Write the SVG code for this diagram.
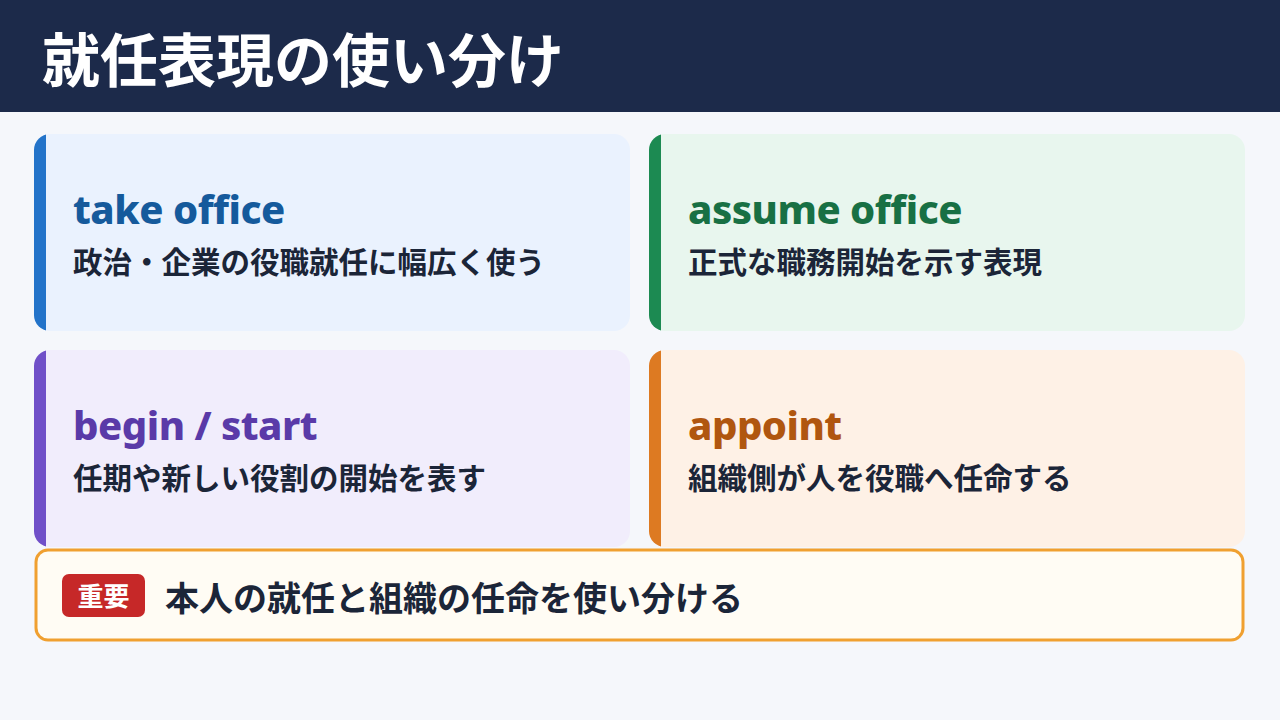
<svg xmlns="http://www.w3.org/2000/svg" width="1280" height="720" viewBox="0 0 1280 720">
<style>
.t{font-family:"Noto Sans","Noto Sans CJK JP",sans-serif;font-weight:700}
.h{font-size:40px;letter-spacing:-0.5px;font-weight:800}
.s{font-size:29.5px;fill:#1b2538;font-weight:600}
</style>
<defs>
<clipPath id="c1"><rect x="34" y="134" width="596" height="197" rx="16"/></clipPath>
<clipPath id="c2"><rect x="649" y="134" width="596" height="197" rx="16"/></clipPath>
<clipPath id="c3"><rect x="34" y="350" width="596" height="197" rx="16"/></clipPath>
<clipPath id="c4"><rect x="649" y="350" width="596" height="197" rx="16"/></clipPath>
</defs>
<rect width="1280" height="720" fill="#f5f7fb"/>
<rect width="1280" height="112" fill="#1c2a4a"/>
<text class="t" x="42" y="82" font-size="58" fill="#fff" font-weight="800">就任表現の使い分け</text>
<g id="card1">
<rect x="34" y="134" width="596" height="197" rx="16" fill="#eaf2fe"/>
<rect x="34" y="134" width="12" height="197" fill="#2373c9" clip-path="url(#c1)"/>
<text class="t h" x="73" y="224" fill="#155a9c">take office</text>
<text class="t s" x="73" y="273">政治・企業の役職就任に幅広く使う</text>
</g>
<g id="card2">
<rect x="649" y="134" width="596" height="197" rx="16" fill="#e8f6ee"/>
<rect x="649" y="134" width="12" height="197" fill="#1c8a52" clip-path="url(#c2)"/>
<text class="t h" x="688" y="224" fill="#187044">assume office</text>
<text class="t s" x="688" y="273">正式な職務開始を示す表現</text>
</g>
<g id="card3">
<rect x="34" y="350" width="596" height="197" rx="16" fill="#f1edfc"/>
<rect x="34" y="350" width="12" height="197" fill="#7050c8" clip-path="url(#c3)"/>
<text class="t h" x="73" y="440" fill="#5a3aa8">begin / start</text>
<text class="t s" x="73" y="489">任期や新しい役割の開始を表す</text>
</g>
<g id="card4">
<rect x="649" y="350" width="596" height="197" rx="16" fill="#fef1e6"/>
<rect x="649" y="350" width="12" height="197" fill="#dd7a22" clip-path="url(#c4)"/>
<text class="t h" x="688" y="440" fill="#b0560f">appoint</text>
<text class="t s" x="688" y="489">組織側が人を役職へ任命する</text>
</g>
<g id="note">
<rect x="36" y="550" width="1207" height="90" rx="12" fill="#fffcf4" stroke="#f0a030" stroke-width="3"/>
<rect x="62" y="574" width="83" height="43" rx="7" fill="#c62828"/>
<text class="t" x="103.500" y="606" font-size="26" fill="#fff" text-anchor="middle">重要</text>
<text class="t" x="165" y="611" font-size="34" fill="#1b2538">本人の就任と組織の任命を使い分ける</text>
</g>
</svg>
